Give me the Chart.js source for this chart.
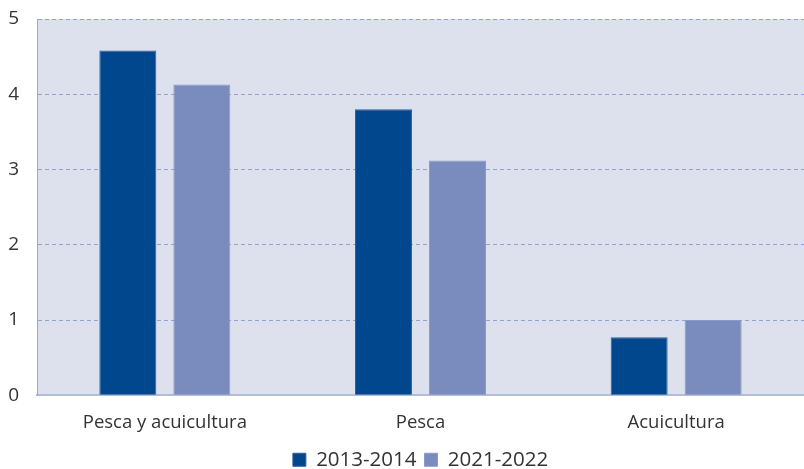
<!DOCTYPE html>
<html lang="es">
<head>
  <meta charset="UTF-8">
  <title>Pesca y acuicultura</title>
  <script src="https://cdn.jsdelivr.net/npm/chart.js"></script>
  <style>
    body{
      margin: 0;
      background: #fff;
    }
    #wrap{
      width: 804px;
      height: 469px;
    }
  </style>
</head>
<body>
  <div id="wrap">
    <canvas id="fishChart" width="804" height="469"></canvas>
  </div>

  <script>
    const categories = ['Pesca y acuicultura', 'Pesca', 'Acuicultura'];
    const seriesLabels = ['2013-2014', '2021-2022'];
    const values2013 = [4.58, 3.80, 0.77];
    const values2021 = [4.13, 3.12, 1.00];
    const yTicks = [0, 1, 2, 3, 4, 5];

    // fill the plot area with the pale lavender background
    const plotBg = {
      id: 'plotBg',
      beforeDraw(chart) {
        const a = chart.chartArea;
        const ctx = chart.ctx;
        ctx.save();
        ctx.fillStyle = '#dde1ee';
        ctx.fillRect(a.left, a.top, a.right - a.left, a.bottom - a.top);
        ctx.restore();
      }
    };

    const fontFam = "'Open Sans', 'Noto Sans', sans-serif";

    new Chart(document.getElementById('fishChart'), {
      type: 'bar',
      data: {
        labels: categories,
        datasets: [
          {
            label: seriesLabels[0],
            data: values2013,
            backgroundColor: '#00478d',
            borderColor: '#2f5f9c',
            borderWidth: 1,
            barPercentage: 0.77,
            categoryPercentage: 0.579
          },
          {
            label: seriesLabels[1],
            data: values2021,
            backgroundColor: '#7a8bbd',
            borderColor: '#8a99c6',
            borderWidth: 1,
            barPercentage: 0.77,
            categoryPercentage: 0.579
          }
        ]
      },
      options: {
        responsive: false,
        animation: false,
        layout: {
          autoPadding: false,
          // plot runs a little past the right edge, as in the original
          padding: { top: 19, right: -12, left: 0, bottom: -11 }
        },
        plugins: {
          legend: {
            position: 'bottom',
            fullSize: false,
            labels: {
              boxWidth: 13,
              boxHeight: 13,
              padding: 8,
              color: '#333',
              font: { family: fontFam, size: 20.5 }
            }
          },
          tooltip: { enabled: false }
        },
        scales: {
          x: {
            grid: { display: false },
            border: { display: true, color: '#b3bcdc', width: 2 },
            ticks: {
              color: '#333',
              padding: 8,
              font: { family: fontFam, size: 18.5 }
            }
          },
          y: {
            min: 0,
            max: 5,
            afterBuildTicks(axis) {
              axis.ticks = yTicks.map(v => ({ value: v }));
            },
            afterFit(axis) {
              axis.width = 37;
              axis.paddingTop = 0;
              axis.paddingBottom = 0;
            },
            grid: {
              color: '#93a3d3',
              lineWidth: 1,
              drawTicks: false
            },
            border: { display: true, color: '#9aa8d6', width: 1, dash: [4, 3] },
            ticks: {
              color: '#333',
              padding: 18,
              align: 'center',
              font: { family: fontFam, size: 19 }
            }
          }
        }
      },
      plugins: [plotBg]
    });
  </script>
</body>
</html>
